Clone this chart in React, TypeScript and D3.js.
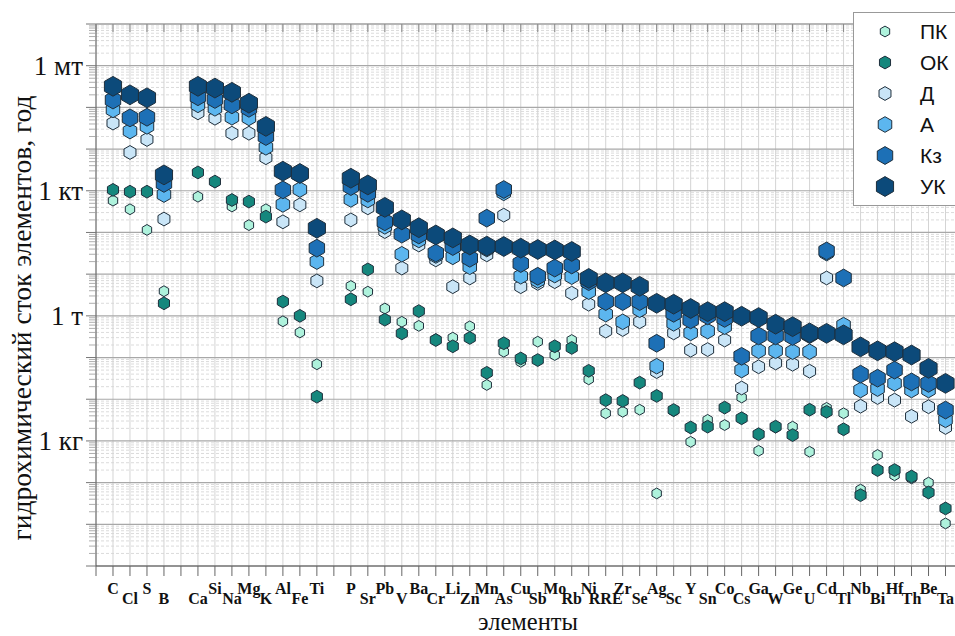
import React from 'react'
import * as d3 from 'd3'

const width = 955
const height = 636

// slots along x; empty strings are the gaps between element groups
const slots = ['', 'C', 'Cl', 'S', 'B', '', 'Ca', 'Si', 'Na', 'Mg', 'K', 'Al', 'Fe', 'Ti', '',
  'P', 'Sr', 'Pb', 'V', 'Ba', 'Cr', 'Li', 'Zn', 'Mn', 'As', 'Cu', 'Sb', 'Mo', 'Rb', 'Ni', 'RRE',
  'Zr', 'Se', 'Ag', 'Sc', 'Y', 'Sn', 'Co', 'Cs', 'Ga', 'W', 'Ge', 'U', 'Cd', 'Tl', 'Nb', 'Bi',
  'Hf', 'Th', 'Be', 'Ta']

// annual flux, kg per year, in element order (C ... Ta)
const PK = [5.8e5, 3.6e5, 1.15e5, 3.9e3, 7.2e5, 1.6e6, 4.2e5, 1.5e5, 3.6e5, 740, 400, 69,
  5.2e3, 3.8e3, 1.5e3, 720, 575, 275, 300, 560, 22, 138, 79, 240, 115, 263, 30, 4.6,
  5.0, 5.6, 0.055, 5.2, 0.95, 3.2, 2.4, 11, 0.58, 2.1, 2.2, 0.55, 6.2, 4.6, 0.068, 0.46,
  0.15, 0.126, 0.1, 0.0105]
const OK = [1.05e6, 9.5e5, 9.5e5, 2.0e3, 2.75e6, 1.66e6, 6.0e5, 5.5e5, 2.4e5, 2.2e3, 1.0e3, 11.5,
  2.5e3, 1.3e4, 810, 380, 1.3e3, 263, 186, 295, 43, 220, 95, 87, 186, 170, 48, 9.5,
  9.1, 25, 12, 5.5, 2.1, 2.2, 6.3, 3.5, 1.45, 2.2, 1.38, 5.6, 5.0, 1.9, 0.05, 0.2,
  0.2, 0.14, 0.058, 0.024]
const D = [4.2e7, 8.3e6, 1.7e7, 2.1e5, 7.4e7, 5.5e7, 2.4e7, 2.4e7, 6.2e6, 1.8e5, 4.6e5, 6.9e3,
  2.0e5, 3.9e5, 1.05e5, 1.4e4, 5.0e4, 2.2e4, 5.0e3, 8.1e3, 2.9e4, 2.6e5, 5.0e3, 6.0e3, 6.6e3, 3.5e3, 1.9e3, 430,
  470, 720, 46, 390, 150, 155, 263, 18.6, 60, 74, 69, 47, 8.1e3, 500, 6.8, 11,
  9.5, 3.9, 6.6, 2.1]
const A = [8.7e7, 2.7e7, 3.5e7, 8.1e5, 1.15e8, 9.5e7, 5.8e7, 5.6e7, 1.1e7, 4.7e5, 1.07e6, 2.0e4,
  6.2e5, 6.0e5, 1.4e5, 3.0e4, 6.6e4, 2.8e4, 2.6e4, 1.5e4, 4.0e4, 8.9e5, 8.9e3, 7.1e3, 9.5e3, 8.7e3, 3.8e3, 1.1e3,
  720, 1.4e3, 62, 660, 390, 430, 550, 50, 145, 145, 138, 138, 3.2e4, 600, 16.6, 18,
  24, 16.6, 16.6, 3.2]
const Kz = [1.5e8, 5.6e7, 5.8e7, 1.5e6, 1.8e8, 1.55e8, 1.15e8, 9.5e7, 2.0e7, 1.05e6, 2.5e6, 4.2e4,
  1.26e6, 8.7e5, 1.8e5, 9.1e4, 8.7e4, 3.2e4, 4.6e4, 2.4e4, 2.2e5, 1.07e6, 1.8e4, 8.9e3, 1.4e4, 1.66e4, 6.6e3, 2.2e3,
  2.2e3, 2.2e3, 220, 1.15e3, 800, 1.0e3, 870, 107, 330, 330, 320, 355, 3.6e4, 8.1e3, 40, 32,
  50, 26, 24, 5.5]
const UK = [3.2e8, 2.0e8, 1.7e8, 2.4e6, 3.2e8, 2.9e8, 2.3e8, 1.26e8, 3.5e7, 2.95e6, 2.6e6, 1.26e5,
  2.0e6, 1.38e6, 4.0e5, 2.0e5, 1.3e5, 8.7e4, 7.4e4, 5.0e4, 4.7e4, 4.6e4, 4.2e4, 3.9e4, 3.8e4, 3.5e4, 7.9e3, 6.2e3,
  6.2e3, 5.1e3, 2.0e3, 1.9e3, 1.5e3, 1.26e3, 1.26e3, 980, 910, 630, 550, 390, 380, 350, 180, 145,
  138, 115, 55, 24]

const seriesNames = ['ПК', 'ОК', 'Д', 'А', 'Кз', 'УК']
const seriesValues = [PK, OK, D, A, Kz, UK]
const seriesColors = ['#aef2dc', '#15877d', '#c9e5f7', '#5cb6ef', '#1d70b6', '#0c4a7a']
const seriesRadius = [5.4, 6.4, 6.9, 7.8, 8.9, 9.9]

const yTickLabels = [
  { v: 1, label: '1 кг' },
  { v: 1e3, label: '1 т' },
  { v: 1e6, label: '1 кт' },
  { v: 1e9, label: '1 мт' },
]

const elements = slots.filter(s => s !== '')
const elementSlot = slots.map((s, i) => (s ? i : -1)).filter(i => i >= 0)

const x = d3.scaleLinear().domain([0, 51]).range([96, 962.5])
const y = d3.scaleLog().domain([1e-3, 1e10]).range([566, 24])

const hexLine = d3.line().curve(d3.curveLinearClosed)
const hexPath = (r: number) =>
  hexLine(d3.range(6).map(i => {
    const a = (Math.PI / 3) * i - Math.PI / 2
    return [r * Math.cos(a), r * Math.sin(a)] as [number, number]
  }))

const serif = '"Liberation Serif", "DejaVu Serif", "Times New Roman", serif'

const App = () => {
  const decades = d3.range(-3, 11)
  const minors: number[] = []
  decades.slice(0, -1).forEach(d => {
    for (let k = 2; k <= 9; k++) minors.push(k * Math.pow(10, d))
  })
  const slotIdx = d3.range(0, 52)

  return (
    <svg width={width} height={height} style={{ position: 'absolute', left: 0, top: 0 }}>
      <rect width={width} height={height} fill="white" />
      {/* minor horizontal grid */}
      {minors.map((v, i) => (
        <line key={'mn' + i} x1={x(0)} x2={x(51)} y1={y(v)} y2={y(v)}
          stroke="#d2d2d2" strokeWidth={0.8} strokeDasharray="3,2" />
      ))}
      {/* vertical grid */}
      {slotIdx.slice(1).map(i => (
        <line key={'vg' + i} x1={x(i)} x2={x(i)} y1={y(1e10)} y2={y(1e-3)}
          stroke="#d4d4d4" strokeWidth={1} />
      ))}
      {/* major horizontal grid */}
      {decades.map(d => (
        <line key={'mj' + d} x1={x(0)} x2={x(51)} y1={y(Math.pow(10, d))} y2={y(Math.pow(10, d))}
          stroke="#a8a8a8" strokeWidth={1.2} />
      ))}

      {/* axes */}
      <line x1={x(0)} x2={x(0)} y1={y(1e10)} y2={y(1e-3)} stroke="#666" strokeWidth={1.2} />
      <line x1={x(0)} x2={x(51)} y1={y(1e-3)} y2={y(1e-3)} stroke="#555" strokeWidth={1.2} />
      <line x1={x(0)} x2={x(51)} y1={y(1e10)} y2={y(1e10)} stroke="#999" strokeWidth={1} />
      {decades.map(d => (
        <line key={'lt' + d} x1={x(0) - 10} x2={x(0)} y1={y(Math.pow(10, d))} y2={y(Math.pow(10, d))}
          stroke="#777" strokeWidth={1} />
      ))}
      {minors.map((v, i) => (
        <line key={'lm' + i} x1={x(0) - 7} x2={x(0)} y1={y(v)} y2={y(v)} stroke="#999" strokeWidth={0.8} />
      ))}
      {slotIdx.map(i => (
        <g key={'bt' + i}>
          <line x1={x(i)} x2={x(i)} y1={y(1e-3)} y2={y(1e-3) + 10} stroke="#666" strokeWidth={1} />
          <line x1={x(i)} x2={x(i)} y1={y(1e10)} y2={y(1e10) + 8} stroke="#888" strokeWidth={1} />
        </g>
      ))}

      {/* y tick labels */}
      {yTickLabels.map(t => (
        <text key={t.label} x={83} y={y(t.v)} dy="0.33em" textAnchor="end"
          fontFamily={serif} fontSize={27} fill="#111">{t.label}</text>
      ))}

      {/* x tick labels, alternating up/down */}
      {elements.map((el, i) => {
        const s = elementSlot[i]
        return (
          <text key={el} x={x(s)} y={s % 2 === 1 ? 594 : 604} textAnchor="middle"
            fontFamily={serif} fontWeight="bold" fontSize={16} fill="#111">{el}</text>
        )
      })}

      {/* markers */}
      {seriesValues.map((vals, si) => (
        <g key={seriesNames[si]}>
          {vals.map((v, i) => (
            <path key={i} d={hexPath(seriesRadius[si]) || ''}
              transform={`translate(${x(elementSlot[i])},${y(v)})`}
              fill={seriesColors[si]} stroke="#1f2f3c" strokeWidth={1} />
          ))}
        </g>
      ))}

      {/* axis titles */}
      <text transform="translate(31,318) rotate(-90)" textAnchor="middle"
        fontFamily={serif} fontSize={27.5} fill="#111">гидрохимический сток элементов, год</text>
      <text x={528} y={630} textAnchor="middle" fontFamily={serif} fontSize={24.5} fill="#111">элементы</text>

      {/* legend */}
      <rect x={853.5} y={12.5} width={130} height={193} fill="white" stroke="#999" strokeWidth={1} />
      {seriesNames.map((name, i) => (
        <g key={'lg' + name} transform={`translate(0,${31.5 + i * 31})`}>
          <path d={hexPath(seriesRadius[i]) || ''} transform="translate(885,0)"
            fill={seriesColors[i]} stroke="#1f2f3c" strokeWidth={1} />
          <text x={920} y={0} dy="0.36em" fontFamily='"Liberation Sans", Arial, sans-serif'
            fontSize={21} fill="#111">{name}</text>
        </g>
      ))}
    </svg>
  )
}

export default App
